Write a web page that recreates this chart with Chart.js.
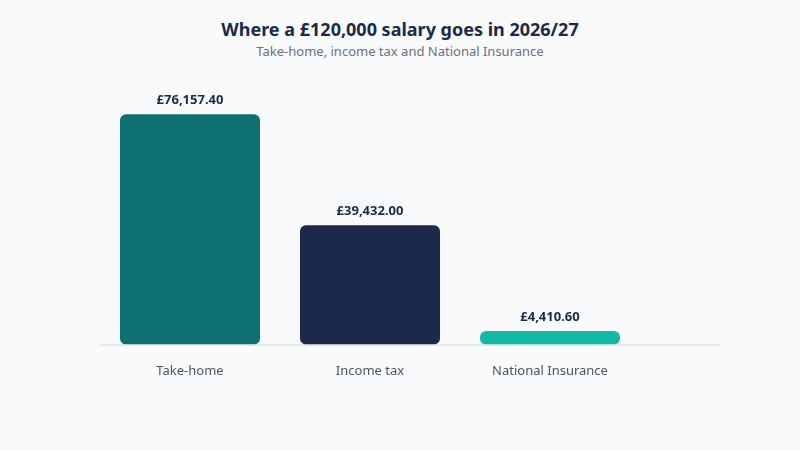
<!DOCTYPE html>
<html><head><meta charset="utf-8">
<script src="https://cdn.jsdelivr.net/npm/chart.js@4"></script>
<style>
html,body{margin:0;padding:0;background:#f8fafc;width:800px;height:450px;overflow:hidden;font-family:"Noto Sans",sans-serif}
#t{position:absolute;top:17px;width:800px;text-align:center;font-weight:700;font-size:18px;color:#1b2a4a}
#s{position:absolute;top:42px;width:800px;text-align:center;font-size:13px;color:#6b7280}
#w{position:absolute;left:0;top:0;width:800px;height:450px}
</style></head><body>
<div id="t">Where a £120,000 salary goes in 2026/27</div>
<div id="s">Take-home, income tax and National Insurance</div>
<div id="w"><canvas id="c" width="800" height="450"></canvas></div>
<script>
const categories=["Take-home","Income tax","National Insurance"];
const values=[76157.40,39432.00,4410.60];
const colors=["#0e7070","#1b2a4a","#14b8a6"];
const fmt=v=>"£"+v.toLocaleString("en-GB",{minimumFractionDigits:2,maximumFractionDigits:2});
const labelPlugin={id:"lbl",afterDatasetsDraw(ch){const c=ch.ctx;const m=ch.getDatasetMeta(0);c.save();c.font="700 13px 'Noto Sans'";c.fillStyle="#1b2a4a";c.textAlign="center";c.textBaseline="bottom";m.data.forEach((b,i)=>c.fillText(fmt(values[i]),b.x,b.y-7));c.restore();},
beforeDatasetsDraw(ch){const c=ch.ctx,a=ch.chartArea;c.save();c.strokeStyle="#dfe3e8";c.lineWidth=1.5;c.beginPath();c.moveTo(a.left,a.bottom+0.5);c.lineTo(a.right+80,a.bottom+0.5);c.stroke();c.restore();}};
new Chart(document.getElementById("c"),{type:"bar",
data:{labels:categories,datasets:[{data:values,backgroundColor:colors,borderRadius:6,borderSkipped:false,categoryPercentage:1,barPercentage:140/180}]},
options:{responsive:false,animation:false,layout:{padding:{left:100,right:160,top:80,bottom:60}},
plugins:{legend:{display:false},tooltip:{enabled:false}},
scales:{y:{display:false,min:0,max:87500},x:{grid:{display:false},border:{display:false},ticks:{color:"#4b5563",font:{family:"Noto Sans",size:13},padding:11}}}},
plugins:[labelPlugin]});
</script></body></html>
